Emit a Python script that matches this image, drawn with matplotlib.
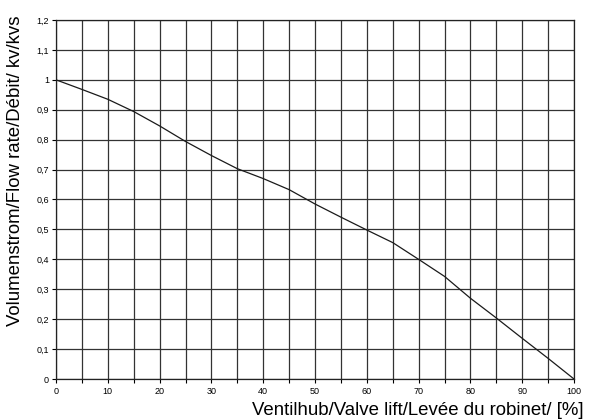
"""Valve characteristic: relative flow rate kv/kvs vs valve lift."""

import matplotlib

matplotlib.use("Agg")
import matplotlib.pyplot as plt
from matplotlib.ticker import FuncFormatter, MultipleLocator

lift = [0, 5, 10, 15, 20, 25, 30, 35, 40, 45, 50, 55, 60, 65, 70, 75, 80, 85, 90, 95, 100]
flow = [1.0, 0.968, 0.935, 0.894, 0.846, 0.794, 0.747, 0.703, 0.67, 0.633, 0.585,
        0.541, 0.498, 0.456, 0.40, 0.343, 0.27, 0.204, 0.136, 0.069, 0.0]

X_LABEL = "Ventilhub/Valve lift/Levée du robinet/ [%]"
Y_LABEL = "Volumenstrom/Flow rate/Débit/ kv/kvs"

plt.rcParams["font.family"] = ["Liberation Sans", "DejaVu Sans"]

fig = plt.figure(figsize=(5.90, 4.19), dpi=100)
ax = fig.add_axes([56 / 590, 1 - 379 / 419, 518 / 590, 359 / 419])

ax.plot(lift, flow, color="#1a1a1a", linewidth=0.9, zorder=3)

ax.set_xlim(0, 100)
ax.set_ylim(0, 1.2)
ax.xaxis.set_major_locator(MultipleLocator(10))
ax.xaxis.set_minor_locator(MultipleLocator(5))
ax.yaxis.set_major_locator(MultipleLocator(0.1))


def comma_fmt(v, pos):
    s = f"{v:.1f}".rstrip("0").rstrip(".")
    return s.replace(".", ",")


ax.yaxis.set_major_formatter(FuncFormatter(comma_fmt))
ax.xaxis.set_major_formatter(FuncFormatter(lambda v, p: f"{v:.0f}"))

ax.grid(which="both", color="#333333", linewidth=0.9)
ax.tick_params(which="both", direction="out", length=3, width=0.8, labelsize=6.5, pad=2)
ax.tick_params(axis="x", pad=3)
for side in ["left", "bottom", "right", "top"]:
    ax.spines[side].set_color("#222222")
    ax.spines[side].set_linewidth(0.9)

fig.text(584 / 590, 1 - 410 / 419, X_LABEL, ha="right", va="center", fontsize=13.4)
fig.text(16 / 590, 1 - 171 / 419, Y_LABEL, ha="center", va="center",
         rotation=90, fontsize=13.4)

fig.savefig("out.png", dpi=100)
